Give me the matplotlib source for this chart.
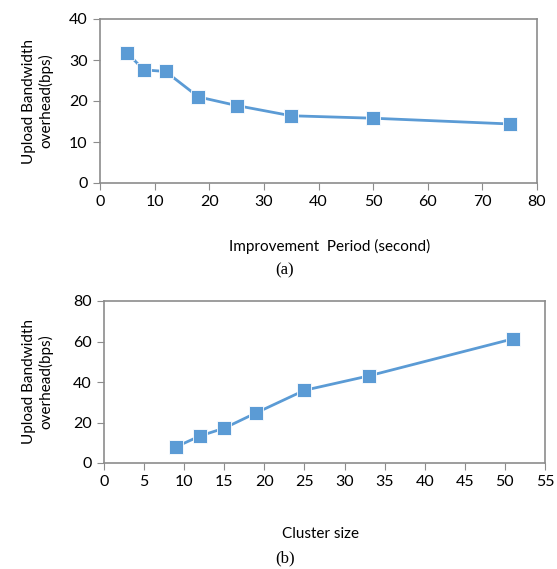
import matplotlib.pyplot as plt

# (a) improvement period vs upload overhead
period = [5, 8, 12, 18, 25, 35, 50, 75]
overhead_a = [31.7, 27.6, 27.2, 21.0, 18.9, 16.4, 15.8, 14.4]

# (b) cluster size vs upload overhead
cluster = [9, 12, 15, 19, 25, 33, 51]
overhead_b = [8.0, 13.4, 17.2, 24.8, 35.9, 43.0, 61.3]

blue = '#5B9BD5'
frame = '#8C8C8C'
plt.rcParams['font.family'] = ['Lato', 'DejaVu Sans']

W, H = 557, 569
fig = plt.figure(figsize=(W / 100, H / 100), dpi=100)


def style(ax, xticks, yticks, lx):
    ax.set_xticks(xticks)
    ax.set_yticks(yticks)
    ax.set_xlim(xticks[0], xticks[-1])
    ax.set_ylim(yticks[0], yticks[-1])
    for s in ax.spines.values():
        s.set_color(frame)
        s.set_linewidth(1.2)
    ax.tick_params(direction='out', length=5, color=frame, labelsize=11.5, pad=4)
    ax.set_ylabel('Upload Bandwidth\noverhead(bps)', fontsize=11, linespacing=1.15)
    # right edge of the (rotated) y label at a fixed pixel x
    x0 = ax.get_position().x0 * W
    ax.yaxis.set_label_coords((lx - x0) / (ax.get_position().width * W), 0.5)


ax1 = fig.add_axes([100 / W, 1 - 183 / H, 437 / W, 164 / H])
ax1.plot(period, overhead_a, color=blue, lw=2, marker='s', ms=10, mec='white', mew=0.6, clip_on=False)
style(ax1, list(range(0, 81, 10)), list(range(0, 41, 10)), 53)
fig.text(330 / W, 1 - 246 / H, 'Improvement  Period (second)', ha='center', va='center', fontsize=11)
fig.text(285 / W, 1 - 270 / H, '(a)', ha='center', va='center', fontsize=12, family=['Liberation Serif'])

ax2 = fig.add_axes([104 / W, 1 - 463 / H, 441 / W, 162 / H])
ax2.plot(cluster, overhead_b, color=blue, lw=2, marker='s', ms=10, mec='white', mew=0.6, clip_on=False)
style(ax2, list(range(0, 56, 5)), list(range(0, 81, 20)), 53)
fig.text(320 / W, 1 - 534 / H, 'Cluster size', ha='center', va='center', fontsize=11)
fig.text(285 / W, 1 - 558 / H, '(b)', ha='center', va='center', fontsize=12, family=['Liberation Serif'])

fig.savefig('out.png', dpi=100)
